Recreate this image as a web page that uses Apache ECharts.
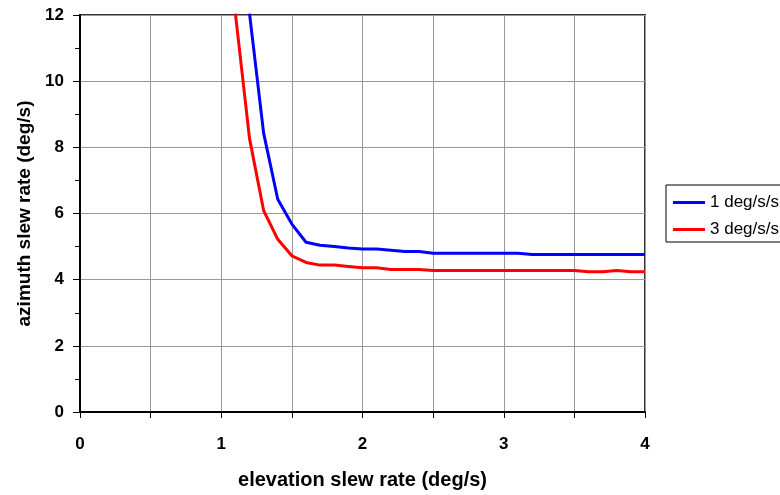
<!DOCTYPE html>
<html>
<head>
<meta charset="utf-8">
<script src="https://cdn.jsdelivr.net/npm/echarts@6/dist/echarts.min.js"></script>
<style>html,body{margin:0;padding:0;background:#fff}#c{width:780px;height:495px}</style>
</head>
<body>
<div id="c"></div>
<script>
const seriesNames = ['1 deg/s/s', '3 deg/s/s'];
const blueX = [1.2, 1.3, 1.4, 1.5, 1.6, 1.7, 1.8, 1.9, 2.0, 2.1, 2.2, 2.3, 2.4, 2.5, 2.6, 2.7, 2.8, 2.9, 3.0, 3.1, 3.2, 3.3, 3.4, 3.5, 3.6, 3.7, 3.8, 3.9, 4.0];
const blueY = [12.05, 8.43, 6.43, 5.68, 5.13, 5.04, 5.00, 4.96, 4.93, 4.93, 4.89, 4.85, 4.85, 4.80, 4.80, 4.80, 4.80, 4.80, 4.80, 4.80, 4.76, 4.76, 4.76, 4.76, 4.76, 4.76, 4.76, 4.76, 4.76];
const redX = [1.1, 1.2, 1.3, 1.4, 1.5, 1.6, 1.7, 1.8, 1.9, 2.0, 2.1, 2.2, 2.3, 2.4, 2.5, 2.6, 2.7, 2.8, 2.9, 3.0, 3.1, 3.2, 3.3, 3.4, 3.5, 3.6, 3.7, 3.8, 3.9, 4.0];
const redY = [12.05, 8.27, 6.09, 5.22, 4.72, 4.52, 4.44, 4.44, 4.40, 4.36, 4.36, 4.31, 4.31, 4.31, 4.28, 4.28, 4.28, 4.28, 4.28, 4.28, 4.28, 4.28, 4.28, 4.28, 4.28, 4.24, 4.24, 4.28, 4.24, 4.24];
const xTitle = 'elevation slew rate (deg/s)';
const yTitle = 'azimuth slew rate (deg/s)';

const font = 'Liberation Sans, Arial, sans-serif';
const chart = echarts.init(document.getElementById('c'));
chart.setOption({
  animation: false,
  grid: { left: 80, right: 135, top: 15, bottom: 83, show: true, borderColor: '#333', borderWidth: 2, backgroundColor: 'transparent' },
  legend: {
    orient: 'vertical', left: 666, top: 185,
    data: seriesNames.map(n => ({ name: n, icon: 'rect' })),
    itemWidth: 32, itemHeight: 3, itemGap: 10,
    borderColor: '#000', borderWidth: 1, padding: [9, 40, 4, 7],
    textStyle: { fontFamily: font, fontSize: 17, color: '#000' }
  },
  xAxis: {
    type: 'value', min: 0, max: 4, interval: 1,
    name: xTitle, nameLocation: 'middle', nameGap: 58,
    nameTextStyle: { fontFamily: font, fontSize: 20, fontWeight: 'bold', color: '#000' },
    axisLine: { show: true, onZero: false, lineStyle: { color: '#000', width: 2 } },
    axisTick: { show: true, length: 6, lineStyle: { color: '#000', width: 1 } },
    minorTick: { show: true, splitNumber: 2, length: 6, lineStyle: { color: '#000', width: 1 } },
    splitLine: { show: true, lineStyle: { color: '#999', width: 1 } },
    minorSplitLine: { show: true, lineStyle: { color: '#999', width: 1 } },
    axisLabel: { fontFamily: font, fontSize: 17, fontWeight: 'bold', color: '#000', margin: 24 }
  },
  yAxis: {
    type: 'value', min: 0, max: 12, interval: 2,
    name: yTitle, nameLocation: 'middle', nameGap: 42, nameRotate: 90,
    nameTextStyle: { fontFamily: font, fontSize: 19, fontWeight: 'bold', color: '#000' },
    axisLine: { show: true, onZero: false, lineStyle: { color: '#000', width: 2 } },
    axisTick: { show: true, length: 7, lineStyle: { color: '#000', width: 1 } },
    minorTick: { show: true, splitNumber: 2, length: 5, lineStyle: { color: '#000', width: 1 } },
    splitLine: { show: true, lineStyle: { color: '#999', width: 1 } },
    axisLabel: { fontFamily: font, fontSize: 17, fontWeight: 'bold', color: '#000', margin: 16 }
  },
  series: [
    { name: seriesNames[0], type: 'line', symbol: 'none', clip: true, color: '#0000ff',
      lineStyle: { color: '#0000ff', width: 3 },
      data: blueX.map((x, i) => [x, blueY[i]]) },
    { name: seriesNames[1], type: 'line', symbol: 'none', clip: true, color: '#ff0000',
      lineStyle: { color: '#ff0000', width: 3 },
      data: redX.map((x, i) => [x, redY[i]]) }
  ]
});
</script>
</body>
</html>
